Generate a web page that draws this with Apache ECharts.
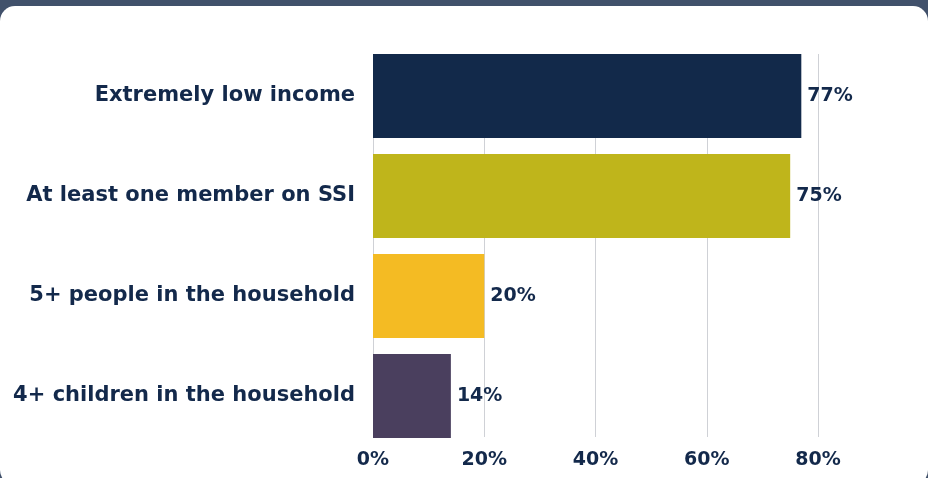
<!DOCTYPE html>
<html>
<head>
<meta charset="utf-8">
<script src="https://cdn.jsdelivr.net/npm/echarts@6/dist/echarts.min.js"></script>
<style>
  html, body { margin: 0; padding: 0; background: #41516b; }
  #chart { width: 928px; height: 478px; }
</style>
</head>
<body>
<div id="chart"></div>
<script>
// Household characteristics (share of households)
const categories = [
  'Extremely low income',
  'At least one member on SSI',
  '5+ people in the household',
  '4+ children in the household'
];
const values = [77, 75, 20, 14];
const barColors = ['#12294a', '#bfb51b', '#f4bb23', '#4a3f5e'];
const tickValues = [0, 20, 40, 60, 80];

const textColor = '#13294b';
const font = '"DejaVu Sans", "Open Sans", sans-serif';

const chart = echarts.init(document.getElementById('chart'), null, { renderer: 'canvas' });

const gridLeft = 373;
const gridRight = 928 - 818;

chart.setOption({
  backgroundColor: 'transparent',
  animation: false,
  graphic: [{
    type: 'rect',
    z: -10,
    silent: true,
    shape: { x: 0, y: 6, width: 928, height: 479, r: 15 },
    style: { fill: '#ffffff' }
  }],
  grid: [
    // bars and category labels
    { left: gridLeft, right: gridRight, top: 46, bottom: 478 - 446 },
    // value-axis gridlines and tick labels, spanning the bars only
    { left: gridLeft, right: gridRight, top: 54, bottom: 478 - 437 }
  ],
  xAxis: [
    {
      gridIndex: 0, type: 'value', min: 0, max: 80, interval: 20,
      show: false
    },
    {
      gridIndex: 1, type: 'value', min: 0, max: 80, interval: 20,
      axisLine: { show: false },
      axisTick: { show: false },
      splitLine: { show: true, lineStyle: { color: '#cfd1d6', width: 1 } },
      axisLabel: {
        margin: 14,
        color: textColor,
        fontFamily: font,
        fontWeight: 700,
        fontSize: 19,
        formatter: v => tickValues.includes(v) ? v + '%' : ''
      }
    }
  ],
  yAxis: [
    {
      gridIndex: 0, type: 'category', data: categories, inverse: true,
      axisLine: { show: false },
      axisTick: { show: false },
      axisLabel: {
        margin: 18,
        color: textColor,
        fontFamily: font,
        fontWeight: 700,
        fontSize: 21
      }
    },
    {
      gridIndex: 1, type: 'category', data: categories, inverse: true, show: false
    }
  ],
  series: [{
    type: 'bar',
    xAxisIndex: 0,
    yAxisIndex: 0,
    data: values.map((v, i) => ({ value: v, itemStyle: { color: barColors[i] } })),
    barCategoryGap: '16%',
    label: {
      show: true,
      position: 'right',
      distance: 6,
      formatter: p => p.value + '%',
      color: textColor,
      fontFamily: font,
      fontWeight: 700,
      fontSize: 19
    }
  }]
});
</script>
</body>
</html>
